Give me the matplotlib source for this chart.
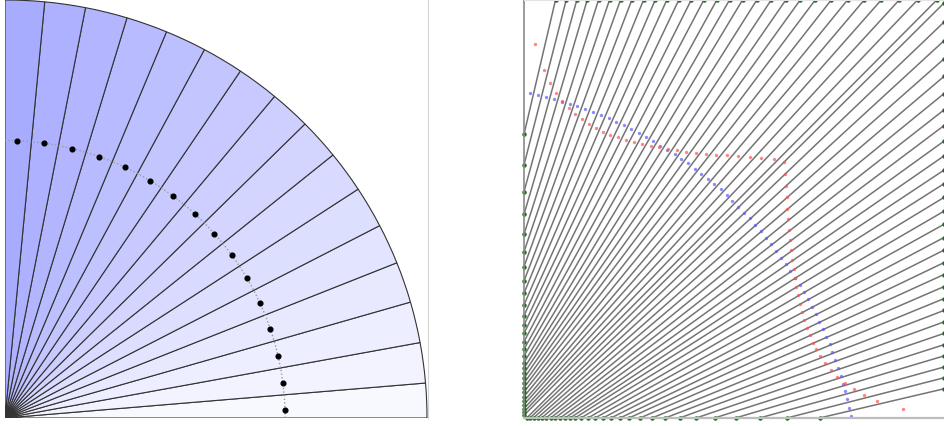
import numpy as np
import matplotlib
matplotlib.use("Agg")
import matplotlib.pyplot as plt
from matplotlib.patches import Wedge, Arc
from matplotlib.colors import LinearSegmentedColormap

# ---- left panel: quarter disc cut into sectors ----
disc_radius = 418
sector_edges = [0, 4.8, 10.4, 16.1, 21.8, 27.4, 33.2, 39.0, 44.7, 50.3,
                56.1, 61.8, 67.5, 73.2, 79.0, 84.6, 90]
mid_angles = [1.6, 7.3, 13.0, 18.7, 24.4, 30.2, 35.9, 41.6, 47.4, 53.1,
              58.8, 64.6, 70.3, 76.1, 81.9, 87.5]
mid_radius = 277.5

# ---- right panel: lines from the left/bottom edges to the top/right edges ----
box_w = 420
box_h = 418
left_start = [283.7, 253, 226.3, 203.7, 183.7, 166.3, 151.3, 137, 124.7, 113,
              102.3, 93, 84.7, 76.3, 68.7, 62, 55.3, 49.7, 44.7, 39.7,
              34.9, 30.4, 26, 21.4, 16.9, 13.3, 9.4, 6, 2.7]
top_end = [31.5, 42.2, 52.8, 63.2, 74.5, 85.5, 96.5, 107.8, 119.5, 131.2,
           142.8, 154.8, 167.2, 179.8, 192.8, 205.5, 218.5, 232.8, 247.2, 261.8,
           276.2, 291.2, 307.2, 323.5, 340.2, 357.2, 375.2, 393.5, 412.8]
bottom_start = [295.5, 262.8, 235.5, 211.5, 190.5, 172.2, 155.5, 141.2, 128, 116,
                105, 96, 87, 79, 71, 64, 57, 51, 46, 41,
                36, 31, 26.5, 22, 17.5, 13.5, 9.5, 6, 2.7]
right_end = [29.2, 40.2, 51.0, 62.1, 73.3, 84.6, 96.1, 107.6, 119.4, 131.4,
             143.5, 155.4, 167.9, 180.5, 193.7, 206.8, 220.6, 234.3, 247.9, 262.1,
             276.9, 292.4, 308.1, 324.4, 341.6, 359.1, 377.3, 395.9, 415.0]

blue_x = [5.5, 13.8, 21.5, 29.8, 37.5, 45.5, 53.2, 61.2, 69.2, 77.2,
          84.8, 92.2, 99.8, 107.2, 114.5, 121.5, 128.8, 136.2, 143.2, 150.5,
          157.2, 163.8, 170.5, 177.2, 183.8, 189.8, 196.5, 202.5, 208.2, 214.2,
          220.2, 225.5, 231.2, 236.8, 241.8, 247.2, 252.2, 256.8, 261.8, 266.2,
          271.2, 275.5, 279.8, 283.8, 287.8, 291.8, 295.2, 298.8, 302.2, 305.5,
          308.2, 311.2, 313.8, 316.5, 319.2, 321.2, 323.2, 325.2, 327.2]
blue_y = [325.3, 323, 321.3, 319.3, 316.5, 314, 312, 309, 306, 303,
          300, 296.3, 292.7, 289, 285.3, 281.3, 277, 272.3, 268, 264,
          259.3, 254.7, 249.3, 244.3, 239.3, 234, 228.7, 223, 217, 211.3,
          205.3, 199.7, 192.7, 187, 180.3, 173.7, 167, 160.3, 153.7, 147,
          140.3, 133, 125.7, 118.7, 111, 103.7, 96.3, 88.7, 81.3, 73.7,
          66, 58, 50.3, 42, 34.3, 26.7, 18.7, 10.3, 2]

red_x = [10.5, 19.5, 25.5, 31.5, 38.2, 44.5, 51.2, 57.8, 64.5, 71.5,
         78.8, 86.2, 93.8, 101.5, 109.5, 117.8, 126.5, 134.8, 143.8, 152.8,
         162.2, 171.5, 181.5, 192.2, 202.8, 213.8, 225.5, 237.2, 249.5, 259.8,
         261.2, 261.8, 262.5, 263.2, 263.8, 264.8, 265.8, 266.8, 268.2, 269.8,
         270.8, 272.2, 273.8, 275.5, 277.5, 279.8, 282.5, 285.5, 288.8, 292.2,
         296.2, 301.2, 306.5, 313.2, 320.5, 329.5, 340.2, 353.2, 378.8]
red_y = [374, 347.7, 335.3, 325.3, 317.3, 309.7, 303.7, 298.7, 294, 290,
         286.3, 283.3, 280.7, 278, 275.7, 274, 272.3, 271, 269, 267.7,
         266.3, 265.3, 264.3, 263.3, 262.7, 262, 261, 260, 259, 256,
         244.3, 232.3, 220.7, 209, 198.7, 187.7, 177.7, 167.7, 157.7, 148.7,
         140.3, 131, 122.7, 114.3, 106, 97.7, 90.3, 83, 75.3, 68.7,
         62, 54.7, 48, 41.3, 35.3, 29, 22.7, 17, 8.7]

fig = plt.figure(figsize=(9.44, 4.26), dpi=100)

# left panel
ax1 = fig.add_axes([5 / 944, 8 / 426, 423 / 944, 418 / 426])
ax1.set_xlim(0, 419)
ax1.set_ylim(0, 418)
shade = LinearSegmentedColormap.from_list("shade", ["#f8f8ff", "#a8acff"])
n = len(sector_edges) - 1
for i in range(n):
    w = Wedge((0, 0), disc_radius, sector_edges[i], sector_edges[i + 1],
              facecolor=shade(i / (n - 1)), edgecolor="#333333", linewidth=0.8)
    ax1.add_patch(w)
ax1.add_patch(Arc((0, 0), 2 * mid_radius, 2 * mid_radius, theta1=0, theta2=90,
                  color="#9a9a9a", linewidth=1.0, linestyle=(0, (1, 1.6))))
mx = mid_radius * np.cos(np.radians(mid_angles))
my = mid_radius * np.sin(np.radians(mid_angles))
ax1.plot(mx, my, "o", color="black", markersize=3.4, zorder=5)
ax1.set_xticks([])
ax1.set_yticks([])
for s in ["top", "left", "bottom"]:
    ax1.spines[s].set_visible(False)
ax1.spines["right"].set_color("#d4d4d4")
ax1.spines["right"].set_linewidth(0.8)

# right panel
ax2 = fig.add_axes([524 / 944, 8 / 426, 420 / 944, 418 / 426])
ax2.set_xlim(0, box_w)
ax2.set_ylim(0, box_h)
for h, t in zip(left_start, top_end):
    ax2.plot([0, t], [h, box_h], color="#5c5c5c", linewidth=1.1, alpha=0.85)
for b, r in zip(bottom_start, right_end):
    ax2.plot([b, box_w], [0, r], color="#5c5c5c", linewidth=1.1, alpha=0.85)

green = "#1f6b1f"
ax2.plot([0] * len(left_start), left_start, "o", color=green, markersize=2.2, clip_on=False)
ax2.plot(top_end, [box_h] * len(top_end), "o", color=green, markersize=2.2, clip_on=False)
ax2.plot(bottom_start, [0] * len(bottom_start), "o", color=green, markersize=2.2, clip_on=False)
ax2.plot([box_w] * len(right_end), right_end, "o", color=green, markersize=2.2, clip_on=False)

ax2.plot(blue_x, blue_y, "o", color="#5a5aff", alpha=0.7, markersize=2.4, markeredgewidth=0)
ax2.plot(red_x, red_y, "o", color="#ff5050", alpha=0.7, markersize=2.4, markeredgewidth=0)

ax2.set_xticks([])
ax2.set_yticks([])
ax2.spines["right"].set_visible(False)
ax2.spines["top"].set_color("#e4e4e4")
ax2.spines["left"].set_color("#8a8a8a")
ax2.spines["left"].set_linewidth(1.2)
ax2.spines["bottom"].set_color("#bdbdbd")
ax2.spines["bottom"].set_linewidth(1.6)

fig.savefig("out.png", dpi=100)
